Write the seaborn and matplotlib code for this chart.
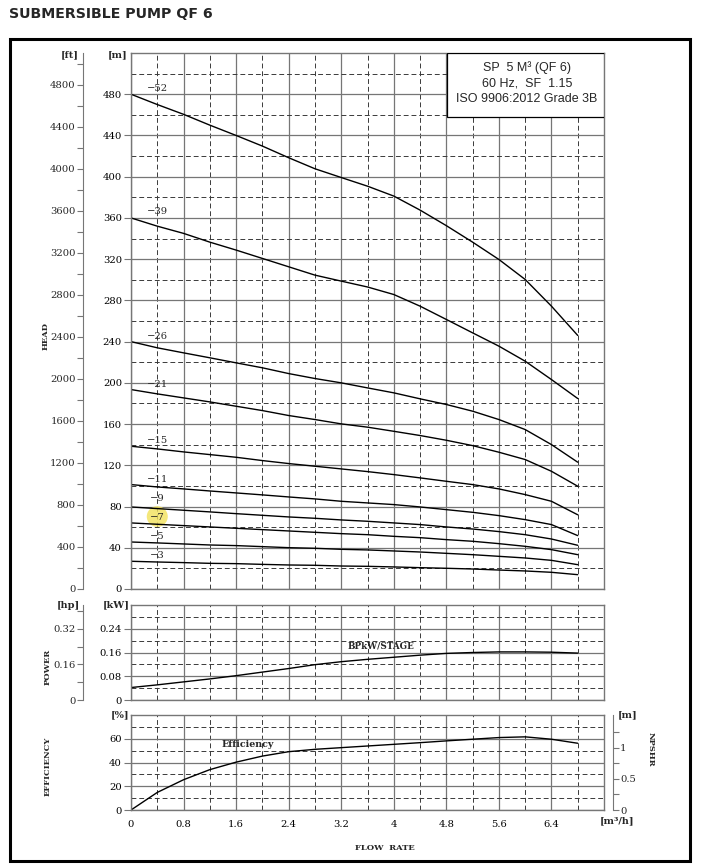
import numpy as np
import pandas as pd
import matplotlib
matplotlib.use("Agg")
import matplotlib.pyplot as plt
import seaborn as sns
from matplotlib.patches import Rectangle, Ellipse
from matplotlib.ticker import FixedLocator, FuncFormatter

# ---------------- data ----------------
flow = [0, 0.4, 0.8, 1.2, 1.6, 2.0, 2.4, 2.8, 3.2, 3.6, 4.0, 4.4, 4.8, 5.2, 5.6, 6.0, 6.4, 6.8]

stage_labels = ["−52", "−39", "−26", "−21", "−15", "−11", "−9", "−7", "−5", "−3"]
head_52 = [480, 470, 460.5, 450, 440, 429.7, 418.4, 407.7, 399.2, 390.8, 381.2, 367.6, 352.5, 336.5, 319.7, 300.3, 274.4, 246]
head_39 = [360, 352, 345, 336.5, 328.8, 320.7, 312.6, 304.5, 298.7, 293, 285.7, 274.4, 261.5, 248.5, 235.6, 221, 203.2, 184.8]
head_26 = [240, 234, 229.1, 224.3, 219.4, 214.6, 209, 204.2, 200, 195.1, 190.3, 184.5, 179, 172.5, 164.4, 154.7, 140.1, 123]
head_21 = [193.5, 189.3, 185.4, 181.5, 177.3, 173.1, 168.3, 164.4, 160.2, 157, 153, 148.9, 144.3, 139.1, 132.7, 125.6, 114.2, 99.7]
head_15 = [138.5, 135.9, 133, 130.4, 127.8, 124.6, 121.7, 119.1, 116.5, 113.9, 111, 107.8, 104.5, 101.3, 97.1, 91.6, 85.1, 72]
head_11 = [101.3, 99, 97.1, 95.1, 93.2, 91.3, 89.3, 87.4, 85.1, 83.5, 81.9, 79.6, 77, 74.4, 71.2, 67.3, 62.5, 51.8]
head_9 = [79.6, 78, 76.4, 74.8, 73.1, 71.5, 69.9, 68.6, 67, 65.7, 64.1, 62.5, 60.2, 58.2, 55.7, 52.7, 48.5, 42.4]
head_7 = [64.1, 62.8, 61.5, 60.2, 58.9, 57.6, 56.3, 55, 53.7, 52.7, 51.1, 49.8, 47.9, 46.3, 44, 41.4, 38.2, 33.3]
head_5 = [45.6, 44.7, 43.7, 42.7, 42.1, 41.1, 40.1, 39.5, 38.5, 37.9, 36.9, 35.9, 34.6, 33.3, 31.7, 30.1, 27.8, 23.6]
head_3 = [26.9, 26.2, 25.6, 24.9, 24.6, 23.9, 23.3, 23, 22.3, 22, 21.4, 20.7, 20.1, 19.4, 18.4, 17.5, 16.2, 13.9]
head_curves = [head_52, head_39, head_26, head_21, head_15, head_11, head_9, head_7, head_5, head_3]

power_kw = [0.042, 0.051, 0.061, 0.071, 0.082, 0.094, 0.106, 0.119, 0.129, 0.137, 0.144, 0.151, 0.157, 0.160, 0.162, 0.162, 0.161, 0.158]
efficiency = [0, 14.8, 25.5, 34, 40.3, 45.4, 49.1, 51.1, 52.5, 53.9, 55.3, 56.7, 58.2, 59.6, 61, 61.6, 59.6, 56.2]

x_ticks = [0, 0.8, 1.6, 2.4, 3.2, 4.0, 4.8, 5.6, 6.4]
x_tick_labels = ["0", "0.8", "1.6", "2.4", "3.2", "4", "4.8", "5.6", "6.4"]
x_minor = [0.4, 1.2, 2.0, 2.8, 3.6, 4.4, 5.2, 6.0, 6.8]
head_ticks = list(range(0, 481, 40))
head_minor = list(range(20, 501, 40))
ft_ticks = list(range(0, 4801, 400))
ft_minor = list(range(200, 5001, 400))
power_ticks = [0, 0.08, 0.16, 0.24]
power_minor = [0.04, 0.12, 0.20, 0.28]
hp_ticks = [0, 0.16, 0.32]
hp_minor = [0.08, 0.24, 0.40]
eff_ticks = [0, 20, 40, 60]
eff_minor = [10, 30, 50, 70]
npsh_ticks = [0, 0.5, 1]
npsh_minor = [0.25, 0.75, 1.25]

# layout of the stage labels (offset above curve at x=0.4, in m)
label_offset = [16, 14, 11, 9, 8, 7, 10, 7, 6.5, 6.5]

# ---------------- style ----------------
sns.set_style("white")
plt.rcParams["font.family"] = ["DejaVu Serif"]
plt.rcParams["axes.axisbelow"] = True

FW, FH = 701, 867
fig = plt.figure(figsize=(FW / 100, FH / 100), dpi=100)

def fx(px):
    return px / FW

def fy(py):
    return 1 - py / FH

AX_L, AX_R = 131, 604
L, W = fx(AX_L), (AX_R - AX_L) / FW
ax_h = fig.add_axes([L, fy(589), W, (589 - 53) / FH])
ax_p = fig.add_axes([L, fy(700), W, (700 - 605) / FH])
ax_e = fig.add_axes([L, fy(810), W, (810 - 715) / FH])

GRID_C = "#767676"
DASH_C = "#3a3a3a"
fmt = FuncFormatter(lambda v, p: f"{v:g}")

def style_axes(ax, ymax, yt, ym, show_xlabels):
    ax.set_xlim(0, 7.2)
    ax.set_ylim(0, ymax)
    ax.xaxis.set_major_locator(FixedLocator(x_ticks))
    ax.xaxis.set_minor_locator(FixedLocator(x_minor))
    ax.yaxis.set_major_locator(FixedLocator(yt))
    ax.yaxis.set_minor_locator(FixedLocator(ym))
    ax.yaxis.set_major_formatter(fmt)
    if show_xlabels:
        ax.set_xticklabels(x_tick_labels)
    ax.grid(which="major", color=GRID_C, lw=0.9, ls="-")
    ax.grid(which="minor", color=DASH_C, lw=0.7, ls=(0, (5, 3)))
    ax.tick_params(which="minor", length=0)
    ax.tick_params(which="major", direction="out", length=5, width=0.8,
                   color=GRID_C, labelsize=7.2, pad=1.5, labelcolor="black")
    ax.tick_params(axis="x", labelbottom=show_xlabels, pad=2.5)
    for s in ax.spines.values():
        s.set_color(GRID_C)
        s.set_linewidth(1.0)
    ax.set_xlabel("")
    ax.set_ylabel("")

def side_axis(twin, ymax, yt, ym, side, pos_px):
    twin.set_ylim(0, ymax)
    other = "right" if side == "left" else "left"
    twin.yaxis.set_ticks_position(side)
    twin.spines[side].set_position(("axes", (pos_px - AX_L) / (AX_R - AX_L)))
    for s in [other, "top", "bottom"]:
        twin.spines[s].set_visible(False)
    twin.spines[side].set_visible(True)
    twin.spines[side].set_color(GRID_C)
    twin.yaxis.set_major_locator(FixedLocator(yt))
    twin.yaxis.set_minor_locator(FixedLocator(ym))
    twin.yaxis.set_major_formatter(fmt)
    kw = {side: True, other: False, "label" + side: True, "label" + other: False}
    twin.tick_params(which="both", direction="out", length=4, width=0.8, color=GRID_C,
                     labelsize=7.2, pad=1.2, **kw)
    twin.grid(False)

# ---------------- head ----------------
df_head = pd.DataFrame({
    "flow": flow * len(head_curves),
    "head": [v for c in head_curves for v in c],
    "stage": [lab for lab in stage_labels for _ in flow],
})
sns.lineplot(data=df_head, x="flow", y="head", units="stage", estimator=None,
             color="black", lw=1.0, ax=ax_h, legend=False)
style_axes(ax_h, 520, head_ticks, head_minor, False)

ax_h.add_patch(Ellipse((0.4, 70.3), 0.32, 20, color="#f2e25a", alpha=0.8, zorder=1.5, lw=0))
for lab, c, off in zip(stage_labels, head_curves, label_offset):
    ax_h.text(0.4, c[1] + off, lab, ha="center", va="center", fontsize=7.2, zorder=4)

# info box
ax_h.add_patch(Rectangle((0.668, 0.881), 0.332, 0.119, transform=ax_h.transAxes,
                         fc="white", ec="black", lw=0.9, zorder=3))
for yy, s in zip([0.972, 0.943, 0.914],
                 ["SP  5 M³ (QF 6)", "60 Hz,  SF  1.15", "ISO 9906:2012 Grade 3B"]):
    ax_h.text(0.8366, yy, s, transform=ax_h.transAxes, ha="center", va="center",
              fontsize=9, family="Liberation Sans", zorder=4)

ax_ft = ax_h.twinx()
side_axis(ax_ft, 5100, ft_ticks, ft_minor, "left", 83)

# ---------------- power ----------------
sns.lineplot(x=flow, y=power_kw, color="black", lw=1.0, ax=ax_p)
style_axes(ax_p, 0.32, power_ticks, power_minor, False)
ax_p.text(3.8, 0.166, "BPkW/STAGE", ha="center", va="bottom", fontsize=6.3, weight="bold")

ax_hp = ax_p.twinx()
side_axis(ax_hp, 0.32 * 4 / 3, hp_ticks, hp_minor, "left", 83)

# ---------------- efficiency ----------------
sns.lineplot(x=flow, y=efficiency, color="black", lw=1.0, ax=ax_e)
style_axes(ax_e, 80, eff_ticks, eff_minor, True)
ax_e.text(1.78, 51, "Efficiency", ha="center", va="bottom", fontsize=6.8, weight="bold")

ax_n = ax_e.twinx()
side_axis(ax_n, 1.52, npsh_ticks, npsh_minor, "right", 612.7)

# ---------------- texts ----------------
def ftxt(xp, yp, s, **kw):
    fig.text(fx(xp), fy(yp), s, **kw)

unit_kw = dict(ha="center", va="center", fontsize=7, weight="bold")
ftxt(70, 55, "[ft]", **unit_kw)
ftxt(118, 55, "[m]", **unit_kw)
ftxt(68, 605, "[hp]", **unit_kw)
ftxt(116, 605, "[kW]", **unit_kw)
ftxt(120, 715, "[%]", **unit_kw)
ftxt(628, 715, "[m]", **unit_kw)
ftxt(617, 821, "[m³/h]", **unit_kw)

lab_kw = dict(ha="center", va="center", fontsize=6.0, weight="bold")
ftxt(46, 336, "HEAD", rotation=90, **lab_kw)
ftxt(48, 667, "POWER", rotation=90, **lab_kw)
ftxt(48, 766, "EFFICIENCY", rotation=90, **lab_kw)
ftxt(651, 749, "NPSHR", rotation=270, **lab_kw)
ftxt(385, 848, "FLOW  RATE", **lab_kw)

fig.text(fx(9), fy(14), "SUBMERSIBLE PUMP QF 6", ha="left", va="center",
         fontsize=10.2, weight="bold", family="DejaVu Sans")

fig.add_artist(Rectangle((fx(9.5), fy(860.5)), (689.5 - 9.5) / FW, (860.5 - 38.5) / FH,
                         transform=fig.transFigure, fill=False, ec="black", lw=2.2))

fig.savefig("out.png", dpi=100)
